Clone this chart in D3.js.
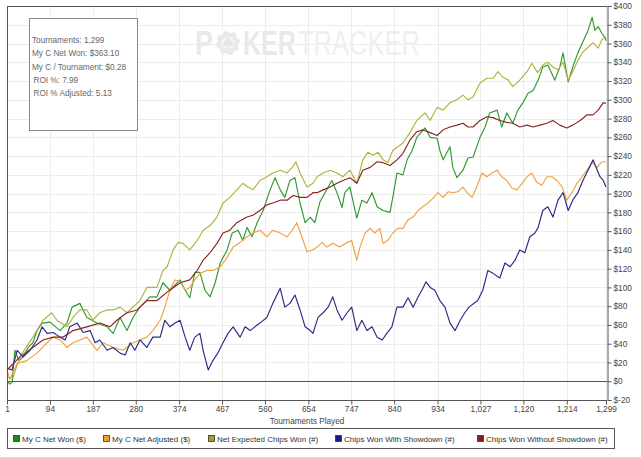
<!DOCTYPE html>
<html>
<head>
<meta charset="utf-8">
<script src="https://cdn.jsdelivr.net/npm/d3@7"></script>
<style>
body{margin:0;background:#fff;}
svg{display:block;font-family:"Liberation Sans",Arial,sans-serif;}
</style>
</head>
<body>
<svg id="chart" width="641" height="457"></svg>
<script>
// ---- data: [tournament, value] ----
const xTicks = [1,94,187,280,374,467,560,654,747,840,934,1027,1120,1214,1299];
const yTicks = [-20,0,20,40,60,80,100,120,140,160,180,200,220,240,260,280,300,320,340,360,380,400];
const seriesNames = ["My C Net Won ($)","My C Net Adjusted ($)","Net Expected Chips Won (#)","Chips Won With Showdown (#)","Chips Won Without Showdown (#)"];
const statsLines = ["Tournaments: 1,299","My C Net Won: $363.10","My C / Tournament: $0.28","ROI %: 7.99","ROI % Adjusted: 5.13"];

const netWon = [[1,1],[7,-3],[12,-1],[18,33],[27,22],[36,26],[47,36],[57,41],[66,54],[77,62],[94,63],[116,54],[131,62],[142,79],[159,83],[174,68],[196,62],[218,58],[231,51],[246,68],[261,54],[274,68],[289,79],[311,90],[326,90],[339,105],[354,97],[376,108],[387,97],[397,89],[408,116],[419,116],[430,97],[441,90],[452,105],[463,126],[478,140],[489,158],[502,161],[512,150],[521,164],[532,154],[543,169],[556,182],[571,204],[582,217],[593,204],[603,196],[614,214],[625,217],[636,190],[647,169],[658,175],[668,169],[679,191],[690,201],[705,214],[716,201],[727,185],[733,201],[744,207],[759,174],[770,193],[781,190],[792,201],[803,186],[816,182],[831,180],[837,196],[846,222],[859,220],[868,236],[879,246],[889,260],[907,270],[918,260],[933,259],[939,246],[946,236],[961,250],[967,228],[976,217],[989,225],[1000,238],[1011,239],[1026,260],[1037,271],[1047,286],[1063,289],[1073,271],[1084,286],[1097,275],[1108,289],[1119,297],[1130,307],[1141,310],[1152,321],[1162,335],[1173,337],[1188,321],[1199,335],[1206,350],[1217,319],[1227,335],[1238,350],[1249,362],[1260,374],[1269,388],[1275,374],[1282,378],[1290,371],[1297,366],[1299,363]];

const netAdjusted = [[1,12],[7,2],[23,19],[44,22],[66,30],[88,41],[101,47],[116,44],[131,36],[144,41],[159,44],[174,47],[196,33],[209,41],[231,36],[252,33],[274,41],[289,44],[304,47],[317,54],[333,65],[343,79],[354,97],[365,108],[376,106],[387,97],[397,100],[408,108],[419,115],[434,118],[447,118],[463,122],[478,132],[491,143],[506,148],[521,154],[534,158],[549,161],[564,154],[577,161],[593,158],[608,154],[619,161],[629,169],[640,154],[651,138],[664,140],[673,143],[684,148],[694,143],[707,147],[722,143],[738,148],[748,150],[759,129],[766,143],[777,158],[788,163],[798,158],[809,163],[816,147],[826,150],[837,158],[848,163],[859,163],[870,172],[881,175],[892,182],[902,186],[913,190],[924,195],[935,201],[946,196],[957,202],[967,201],[978,202],[989,207],[998,201],[1009,196],[1019,207],[1030,222],[1041,218],[1052,222],[1063,225],[1073,218],[1084,214],[1095,206],[1106,204],[1117,211],[1128,218],[1138,222],[1149,212],[1160,209],[1171,218],[1182,218],[1193,214],[1204,207],[1214,193],[1225,201],[1236,211],[1247,218],[1258,225],[1269,233],[1280,228],[1290,234],[1299,234]];

const expectedChips = [[1,4],[14,4],[29,26],[57,47],[79,65],[98,73],[109,65],[131,58],[144,68],[159,76],[174,76],[187,65],[202,73],[218,76],[231,76],[246,79],[261,73],[274,79],[289,86],[304,100],[326,100],[339,118],[348,122],[361,140],[372,148],[382,147],[397,140],[413,150],[426,161],[441,166],[456,175],[469,190],[484,196],[499,204],[512,211],[523,207],[534,204],[549,214],[564,218],[577,222],[593,225],[608,222],[619,228],[627,234],[636,222],[651,207],[664,211],[673,218],[686,222],[701,225],[716,222],[729,218],[744,225],[759,211],[772,236],[783,244],[794,241],[805,244],[816,236],[826,233],[837,246],[848,250],[859,254],[874,265],[889,278],[907,286],[918,278],[933,292],[946,289],[961,297],[976,300],[989,305],[1000,300],[1011,303],[1026,318],[1041,323],[1054,323],[1065,330],[1076,324],[1087,321],[1097,314],[1112,321],[1128,330],[1138,339],[1151,329],[1162,337],[1173,340],[1184,335],[1195,332],[1206,340],[1217,321],[1227,330],[1238,342],[1249,351],[1260,356],[1271,361],[1282,355],[1290,364],[1299,367]];

const withShowdown = [[1,14],[12,12],[23,33],[36,26],[51,33],[66,44],[77,58],[88,51],[101,52],[116,47],[127,44],[137,58],[153,62],[166,52],[181,54],[192,41],[202,44],[218,33],[231,36],[246,30],[257,28],[268,41],[278,33],[289,44],[304,36],[317,47],[333,47],[343,65],[354,58],[365,62],[376,65],[387,47],[397,33],[408,47],[419,51],[426,33],[437,12],[447,22],[458,30],[469,41],[480,51],[491,58],[506,47],[517,58],[528,54],[538,58],[549,62],[564,68],[577,83],[593,99],[603,79],[614,83],[625,92],[636,76],[647,58],[658,54],[664,51],[675,68],[686,73],[697,79],[707,90],[716,76],[727,65],[738,73],[748,79],[759,54],[770,65],[781,54],[792,58],[803,47],[814,44],[824,51],[835,58],[846,79],[859,79],[870,89],[881,79],[892,90],[900,97],[909,106],[918,100],[928,97],[939,86],[950,79],[961,62],[972,54],[983,65],[993,73],[1002,79],[1021,86],[1032,97],[1043,118],[1054,115],[1069,110],[1080,126],[1091,122],[1102,129],[1112,140],[1123,137],[1134,154],[1145,158],[1152,164],[1162,182],[1173,186],[1184,175],[1195,193],[1206,201],[1217,182],[1227,193],[1238,201],[1249,214],[1260,225],[1271,236],[1280,225],[1286,218],[1293,214],[1299,207]];

const withoutShowdown = [[1,12],[29,26],[57,36],[79,44],[101,47],[122,47],[144,54],[174,58],[202,62],[224,58],[239,65],[261,73],[283,76],[304,86],[326,86],[348,95],[354,97],[376,105],[397,108],[413,118],[426,129],[441,137],[456,147],[469,158],[484,161],[499,169],[521,175],[534,177],[549,182],[564,188],[577,190],[593,193],[608,193],[621,198],[636,196],[651,196],[664,201],[673,201],[686,204],[701,207],[716,211],[729,214],[744,217],[759,211],[772,225],[788,228],[803,234],[816,233],[831,230],[846,236],[859,243],[874,257],[889,266],[902,268],[918,265],[933,262],[946,268],[961,271],[976,273],[989,275],[1000,271],[1011,271],[1026,278],[1041,282],[1054,281],[1069,278],[1084,276],[1097,275],[1112,271],[1128,273],[1141,271],[1156,273],[1171,275],[1184,278],[1199,273],[1214,270],[1227,273],[1243,278],[1258,284],[1271,284],[1282,289],[1293,297],[1299,296]];

const seriesData = [netWon, netAdjusted, expectedChips, withShowdown, withoutShowdown];
const seriesColors = ["#2f9a2f","#f0a142","#b2b23c","#2a2a85","#8a2424"];
const legendColors = ["#1e8a1e","#f0983a","#a0a02c","#1a1a80","#8b1a1a"];

// ---- chart ----
const svg = d3.select("#chart");
const W = 641, H = 457;
const x = d3.scaleLinear().domain([1,1299]).range([7,606]);
const y = d3.scaleLinear().domain([-20,400]).range([400,6]);
const pLeft = 7, pRight = 607, pTop = 6, pBottom = 400;

svg.append("rect").attr("width",W).attr("height",H).attr("fill","#fff");

// grid
const grid = svg.append("g").attr("stroke","#ececec").attr("stroke-width",1).attr("shape-rendering","crispEdges");
yTicks.forEach(v => grid.append("line").attr("x1",pLeft).attr("x2",pRight).attr("y1",Math.round(y(v))+0.5).attr("y2",Math.round(y(v))+0.5));
xTicks.forEach(v => grid.append("line").attr("y1",pTop).attr("y2",pBottom).attr("x1",Math.round(x(v))+0.5).attr("x2",Math.round(x(v))+0.5));

// watermark (scaled text so the real boxes match the drawn glyphs)
const wm = svg.append("g");
function wmWord(str, x0, x1, bold, fill) {
  const g = wm.append("g");
  const t = g.append("text").attr("x",0).attr("y",0).attr("font-size",35)
    .attr("font-weight", bold ? "bold" : "normal").attr("fill",fill).text(str);
  const w = t.node().getComputedTextLength() || 1;
  g.attr("transform",`translate(${x0},55) scale(${(x1 - x0) / w},1)`);
}
wmWord("P", 195, 213, true, "#e9e9e9");
wm.append("circle").attr("cx",228).attr("cy",43).attr("r",12).attr("fill","#e9e9e9");
wm.append("circle").attr("cx",228).attr("cy",43).attr("r",12).attr("fill","none").attr("stroke","#fff")
  .attr("stroke-width",3).attr("stroke-dasharray","4 5.4");
wm.append("circle").attr("cx",228).attr("cy",43).attr("r",6.5).attr("fill","#f4f4f4");
wm.append("path").attr("d","M228,37 C226,40 223,42 223,44 C223,46 226,47 227.5,45.5 L226.5,49 L229.5,49 L228.5,45.5 C230,47 233,46 233,44 C233,42 230,40 228,37 Z").attr("fill","#e6e6e6");
wmWord("KER", 243, 296, true, "#e9e9e9");
wmWord("TRACKER", 298, 420, false, "#efefef");

// zero line
svg.append("line").attr("x1",pLeft).attr("x2",pRight).attr("y1",Math.round(y(0))+0.5).attr("y2",Math.round(y(0))+0.5)
  .attr("stroke","#555").attr("stroke-width",1).attr("shape-rendering","crispEdges");

// series lines
const line = d3.line().x(d => x(d[0])).y(d => y(d[1]));
seriesData.forEach((s,i) => {
  svg.append("path").datum(s).attr("d",line).attr("fill","none")
    .attr("stroke",seriesColors[i]).attr("stroke-width",1.15).attr("stroke-linejoin","round");
});

// frame (left + top)
svg.append("line").attr("x1",pLeft+0.5).attr("x2",pLeft+0.5).attr("y1",pTop).attr("y2",pBottom).attr("stroke","#555").attr("shape-rendering","crispEdges");
svg.append("line").attr("x1",pLeft).attr("x2",pRight).attr("y1",pTop+0.5).attr("y2",pTop+0.5).attr("stroke","#555").attr("shape-rendering","crispEdges");

// y axis right
const yAxis = d3.axisRight(y).tickValues(yTicks).tickSize(4).tickPadding(2).tickFormat(v => "$" + v);
const gy = svg.append("g").attr("transform",`translate(${pRight+0.5},0)`).call(yAxis);
gy.select(".domain").attr("stroke","#555");
gy.selectAll(".tick line").attr("stroke","#555");
gy.selectAll("text").attr("font-size",8.3).attr("fill","#444").attr("font-family","Liberation Sans, Arial, sans-serif");

// x axis bottom
const xAxis = d3.axisBottom(x).tickValues(xTicks).tickSize(4).tickPadding(2).tickFormat(d3.format(","));
const gx = svg.append("g").attr("transform",`translate(0,${pBottom+0.5})`).call(xAxis);
gx.select(".domain").attr("stroke","#555").attr("d",`M${pLeft},0H${pRight}`);
gx.selectAll(".tick line").attr("stroke","#555");
gx.selectAll("text").attr("font-size",8.3).attr("fill","#444").attr("font-family","Liberation Sans, Arial, sans-serif");

svg.append("text").attr("x",307).attr("y",424).attr("text-anchor","middle").attr("font-size",8.2).attr("fill","#444").text("Tournaments Played");

// stats box
svg.append("rect").attr("x",29.5).attr("y",18.5).attr("width",108).attr("height",112).attr("fill","#fff").attr("stroke","#8a8a8a");
statsLines.forEach((t,i) => {
  svg.append("text").attr("x", i >= 3 ? 33.5 : 32).attr("y",43 + i*13.3).attr("font-size",8.2).attr("fill","#666").text(t);
});

// legend
svg.append("rect").attr("x",7.5).attr("y",428.5).attr("width",607).attr("height",20).attr("fill","#fff").attr("stroke","#555");
const legendX = [13,103,208,335,477];
seriesNames.forEach((n,i) => {
  svg.append("rect").attr("x",legendX[i]+0.5).attr("y",435.5).attr("width",6).attr("height",6)
    .attr("fill",legendColors[i]).attr("stroke","#333").attr("stroke-width",0.8);
  svg.append("text").attr("x",legendX[i]+9).attr("y",442).attr("font-size",8).attr("fill","#333").text(n);
});
</script>
</body>
</html>
